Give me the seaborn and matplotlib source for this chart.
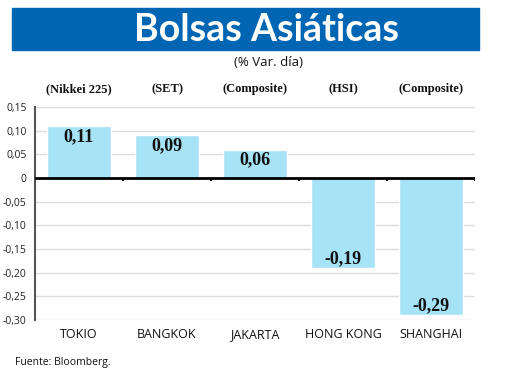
import pandas as pd
import matplotlib.pyplot as plt
import seaborn as sns
from matplotlib.patches import Rectangle

# data
mercados = ['TOKIO', 'BANGKOK', 'JAKARTA', 'HONG KONG', 'SHANGHAI']
indices = ['(Nikkei 225)', '(SET)', '(Composite)', '(HSI)', '(Composite)']
variacion = [0.11, 0.09, 0.06, -0.19, -0.29]
yticks = [0.15, 0.10, 0.05, 0, -0.05, -0.10, -0.15, -0.20, -0.25, -0.30]

df = pd.DataFrame({'mercado': mercados, 'var': variacion})

sns.set_style('white')
plt.rcParams['font.family'] = ['Open Sans', 'DejaVu Sans']

fig = plt.figure(figsize=(5.2, 3.9), dpi=100)
ax = fig.add_axes([35 / 520, 1 - 320 / 390, 440 / 520, 213 / 390])

sns.barplot(data=df, x='mercado', y='var', color='#a6e3f7', saturation=1,
            width=0.72, ax=ax)
ax.set_xlim(-0.5, 4.5)
ax.set_ylim(-0.30, 0.15)
ax.set(xlabel='', ylabel='')

# grid
ax.set_yticks(yticks)
ax.set_yticklabels(['0' if v == 0 else f'{v:.2f}'.replace('.', ',') for v in yticks],
                   fontsize=7.5, color='#222222')
ax.yaxis.grid(True, color='#dddddd', lw=1)
ax.set_axisbelow(True)
ax.tick_params(axis='y', length=0, pad=6)
ax.tick_params(axis='x', length=0, pad=6, labelsize=9, labelcolor='#111111')
for s in ['top', 'right', 'bottom']:
    ax.spines[s].set_visible(False)
ax.spines['left'].set_color('#555555')
ax.spines['left'].set_linewidth(1.5)

# zero line with ticks between categories
ax.axhline(0, color='black', lw=2, zorder=3)
ax.vlines([i + 0.5 for i in range(len(mercados))], -0.006, 0, color='black', lw=1.5, zorder=3)

# value labels
for i, v in enumerate(variacion):
    txt = f'{v:.2f}'.replace('.', ',')
    if v >= 0:
        ax.text(i, v - 0.004, txt, ha='center', va='top', fontsize=13,
                fontweight='bold', family='Liberation Serif', color='#111111')
    else:
        ax.text(i, v + 0.002, txt, ha='center', va='bottom', fontsize=13,
                fontweight='bold', family='Liberation Serif', color='#111111')

# index names above the plot
for i, name in enumerate(indices):
    ax.text(i, 1.055, name, transform=ax.get_xaxis_transform(), ha='center', va='bottom',
            fontsize=9, fontweight='bold', family='Liberation Serif', color='#111111')

# title banner
fig.patches.append(Rectangle((12 / 520, 1 - 50 / 390), 467 / 520, 42 / 390,
                             transform=fig.transFigure, color='#0066b3', zorder=0))
fig.text(267 / 520, 1 - 30 / 390, 'Bolsas Asiáticas', ha='center', va='center',
         color='white', fontsize=27, fontweight='bold', family='Lato')
fig.text(268 / 520, 1 - 62 / 390, '(% Var. día)', ha='center', va='center',
         fontsize=9.5, color='#111111')
fig.text(15 / 520, 1 - 363 / 390, 'Fuente: Bloomberg.', ha='left', va='center',
         fontsize=7.5, color='#111111')

fig.savefig('out.png', dpi=100)
